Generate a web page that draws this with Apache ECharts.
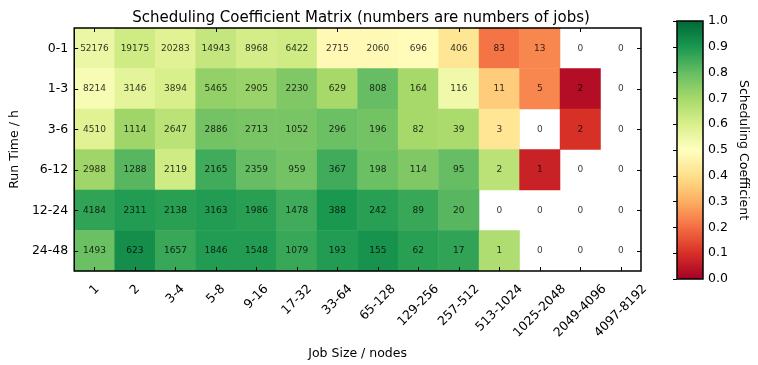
<!DOCTYPE html>
<html>
<head>
<meta charset="utf-8">
<script src="https://cdn.jsdelivr.net/npm/echarts@6/dist/echarts.min.js"></script>
<style>
  html, body { margin: 0; padding: 0; background: #fff; }
  #chart { width: 758px; height: 365px; }
</style>
</head>
<body>
<div id="chart"></div>
<script>
// ---- data ----
var jobSizes = ['1','2','3-4','5-8','9-16','17-32','33-64','65-128','129-256','257-512','513-1024','1025-2048','2049-4096','4097-8192'];
var runTimes = ['0-1','1-3','3-6','6-12','12-24','24-48'];

var counts_0_1   = [52176, 19175, 20283, 14943, 8968, 6422, 2715, 2060, 696, 406, 83, 13, 0, 0];
var counts_1_3   = [8214, 3146, 3894, 5465, 2905, 2230, 629, 808, 164, 116, 11, 5, 2, 0];
var counts_3_6   = [4510, 1114, 2647, 2886, 2713, 1052, 296, 196, 82, 39, 3, 0, 2, 0];
var counts_6_12  = [2988, 1288, 2119, 2165, 2359, 959, 367, 198, 114, 95, 2, 1, 0, 0];
var counts_12_24 = [4184, 2311, 2138, 3163, 1986, 1478, 388, 242, 89, 20, 0, 0, 0, 0];
var counts_24_48 = [1493, 623, 1657, 1846, 1548, 1079, 193, 155, 62, 17, 1, 0, 0, 0];

var coef_0_1   = [0.55, 0.62, 0.58, 0.64, 0.61, 0.62, 0.48, 0.48, 0.49, 0.42, 0.21, 0.24, null, null];
var coef_1_3   = [0.52, 0.57, 0.60, 0.73, 0.72, 0.76, 0.70, 0.80, 0.70, 0.54, 0.36, 0.24, 0.03, null];
var coef_3_6   = [0.58, 0.71, 0.66, 0.78, 0.77, 0.77, 0.79, 0.78, 0.70, 0.69, 0.42, null, 0.10, null];
var coef_6_12  = [0.71, 0.82, 0.62, 0.85, 0.80, 0.78, 0.85, 0.79, 0.76, 0.80, 0.66, 0.07, null, null];
var coef_12_24 = [0.87, 0.89, 0.88, 0.89, 0.88, 0.85, 0.90, 0.88, 0.86, 0.82, null, null, null, null];
var coef_24_48 = [0.79, 0.92, 0.86, 0.89, 0.89, 0.86, 0.89, 0.91, 0.88, 0.87, 0.68, null, null, null];

var colorbarTicks = [0.0, 0.1, 0.2, 0.3, 0.4, 0.5, 0.6, 0.7, 0.8, 0.9, 1.0];
var rdYlGn = ['#a50026','#d73027','#f46d43','#fdae61','#fee08b','#ffffbf','#d9ef8b','#a6d96a','#66bd63','#1a9850','#006837'];

// ---- build ----
var countRows = [counts_0_1, counts_1_3, counts_3_6, counts_6_12, counts_12_24, counts_24_48];
var coefRows = [coef_0_1, coef_1_3, coef_3_6, coef_6_12, coef_12_24, coef_24_48];
var heatData = [];
var labelData = [];
for (var r = 0; r < runTimes.length; r++) {
  for (var c = 0; c < jobSizes.length; c++) {
    if (coefRows[r][c] !== null) heatData.push([c, r, coefRows[r][c]]);
    labelData.push([c, r, countRows[r][c]]);
  }
}

var FONT = 'DejaVu Sans';
var FS = 12.5;

// Rotated x labels centred on their tick (matplotlib style): per-label padding from measured text width
var measureCtx = document.createElement('canvas').getContext('2d');
measureCtx.font = FS + 'px "' + FONT + '"';
var xRich = {};
jobSizes.forEach(function (s, i) {
  var half = measureCtx.measureText(s).width / 2;
  xRich['l' + i] = { fontSize: FS, fontFamily: FONT, color: '#000', padding: [half, half, 0, 0] };
});

var chart = echarts.init(document.getElementById('chart'), null, { renderer: 'canvas' });
var tickStyle = { show: true, inside: true, length: 4, alignWithLabel: true, lineStyle: { color: '#000', width: 1 } };

chart.setOption({
  animation: false,
  backgroundColor: '#fff',
  textStyle: { fontFamily: FONT },
  title: {
    text: 'Scheduling Coefficient Matrix (numbers are numbers of jobs)',
    left: 356, top: 6, textAlign: 'center',
    textStyle: { fontFamily: FONT, fontSize: 15, fontWeight: 'normal', color: '#000' }
  },
  grid: [
    { left: 72, top: 28, width: 569, height: 243, show: true, borderColor: '#000', borderWidth: 1.5, backgroundColor: 'transparent', z: 5 },
    { left: 677, top: 21, width: 26, height: 258, show: true, borderColor: '#000', borderWidth: 1.5, backgroundColor: 'transparent', z: 5 }
  ],
  xAxis: [
    { type: 'category', gridIndex: 0, data: jobSizes, position: 'bottom',
      axisLine: { show: false }, axisTick: tickStyle, splitLine: { show: false },
      axisLabel: { rotate: 45, align: 'center', verticalAlign: 'middle', margin: 16, interval: 0,
        fontSize: FS, color: '#000', fontFamily: FONT,
        formatter: function (v, i) { return '{l' + i + '|' + v + '}'; },
        rich: xRich },
      name: 'Job Size / nodes', nameLocation: 'middle', nameGap: 73,
      nameTextStyle: { fontSize: FS, color: '#000', fontFamily: FONT }, z: 6 },
    { type: 'category', gridIndex: 0, data: jobSizes, position: 'top',
      axisLine: { show: false }, axisTick: tickStyle, axisLabel: { show: false }, z: 6 },
    { type: 'value', gridIndex: 1, min: 0, max: 1, show: false }
  ],
  yAxis: [
    { type: 'category', gridIndex: 0, data: runTimes, inverse: true, position: 'left',
      axisLine: { show: false }, axisTick: tickStyle, splitLine: { show: false },
      axisLabel: { fontSize: FS, color: '#000', fontFamily: FONT, margin: 6 },
      name: 'Run Time / h', nameLocation: 'middle', nameGap: 46, nameRotate: 90,
      nameTextStyle: { fontSize: FS, color: '#000', fontFamily: FONT }, z: 6 },
    { type: 'category', gridIndex: 0, data: runTimes, inverse: true, position: 'right',
      axisLine: { show: false }, axisTick: tickStyle, axisLabel: { show: false }, z: 6 },
    { type: 'value', gridIndex: 1, min: 0, max: 1, interval: 0.1, position: 'right',
      axisLine: { show: false },
      axisTick: { show: true, inside: true, length: 4, lineStyle: { color: '#000' } },
      splitLine: { show: false },
      axisLabel: { fontSize: FS, color: '#000', fontFamily: FONT, margin: 5,
        customValues: colorbarTicks,
        formatter: function (v) { return v.toFixed(1); } },
      name: 'Scheduling Coefficient', nameLocation: 'middle', nameGap: 34, nameRotate: -90,
      nameTextStyle: { fontSize: FS, color: '#000', fontFamily: FONT }, z: 6 }
  ],
  visualMap: {
    type: 'continuous', min: 0, max: 1, seriesIndex: 0, dimension: 2,
    show: true, calculable: false, hoverLink: false, realtime: false,
    left: 677, top: 21, itemWidth: 26, itemHeight: 258, padding: 0,
    inRange: { color: rdYlGn }, z: 1
  },
  series: [
    { type: 'heatmap', xAxisIndex: 0, yAxisIndex: 0, data: heatData,
      itemStyle: { borderWidth: 0 }, label: { show: false },
      emphasis: { disabled: true }, progressive: 0 },
    { type: 'scatter', xAxisIndex: 0, yAxisIndex: 0, data: labelData,
      symbolSize: 1, itemStyle: { color: 'rgba(0,0,0,0)' }, silent: true, z: 10,
      label: { show: true, position: 'inside', fontSize: 9, color: '#000', fontFamily: FONT,
        formatter: function (p) { return String(p.data[2]); } },
      emphasis: { disabled: true } }
  ]
});
</script>
</body>
</html>
